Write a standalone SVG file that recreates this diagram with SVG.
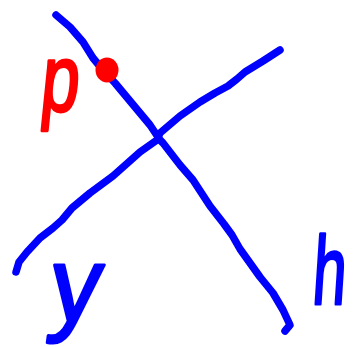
<svg xmlns="http://www.w3.org/2000/svg" width="355" height="347" viewBox="0 0 355 347">
<style>
.ln{fill:none;stroke:#0000ff;stroke-width:7.5;stroke-linecap:round;stroke-linejoin:round}
.lbl{font-family:"Liberation Sans",Arial,sans-serif;text-anchor:middle;stroke-width:3;stroke-linejoin:round}
.blue{fill:#0000ff;stroke:#0000ff}
.red{fill:#ff0000;stroke:#ff0000}
</style>
<rect width="355" height="347" fill="#ffffff"/>
<g id="connectors">
<polyline id="line-h" class="ln" points="56,15 70,27 83,42 93,58 103,70 115,83 125,95 140,113 150,125 160,140 163,143 180,165 193,180 210,206 224,224 232,235 240,249 260,277 273,293 283,310 290,325 285,331"/>
<polyline id="line-y" class="ln" points="280,50 263,61 245,72 237,79 228,86 215,93 200,102 180,116 160,133 157,140 140,152 113,176 90,193 72,208 62,220 53,228 40,238 27,252 19,262 16,272"/>
</g>
<g id="point-p">
<ellipse cx="107" cy="70" rx="11.5" ry="12.5" class="red" stroke-width="0"/>
<text class="lbl red" font-size="95" transform="translate(58,111) scale(0.72,1) skewX(-8)" x="0" y="0">p</text>
</g>
<g id="label-y">
<text class="lbl blue" font-size="106" transform="translate(72,321) scale(0.95,1) skewX(-8)" x="0" y="0">y</text>
</g>
<g id="label-h">
<text class="lbl blue" font-size="97" transform="translate(328,304) scale(0.62,1) skewX(-6)" x="0" y="0">h</text>
</g>
</svg>
